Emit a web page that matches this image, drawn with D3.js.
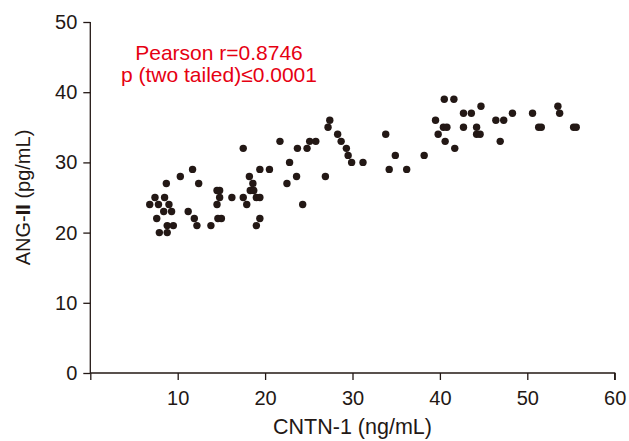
<!doctype html>
<html lang="en">
<head>
  <meta charset="utf-8">
  <title>CNTN-1 vs ANG-II</title>
  <style>
    * { margin: 0; padding: 0; box-sizing: border-box; }
    body { background: #fff; }
    svg text { font-family: "Liberation Sans", Arial, Helvetica, sans-serif; }
    .axis path, .axis line { stroke: #231815; stroke-width: 1.3; }
    .axis text { font-size: 20px; fill: #231815; }
    .title { font-size: 20px; fill: #231815; }
    .xtitle { font-size: 21.5px; }
    .stats { font-size: 21px; fill: #e60012; }
  </style>
</head>
<body>
  <div id="container"></div>
  <script src="https://cdn.jsdelivr.net/npm/d3@7"></script>
  <script>
    // points, grouped by ANG-II level (pg/mL)
    const angLevels = [20, 21, 22, 23, 24, 25, 26, 27, 28, 29, 30, 31, 32, 33, 34, 35, 36, 37, 38, 39];
    const cntnAtLevel = [
      [7.9, 8.8],
      [8.8, 9.5, 12.2, 13.8, 19.0],
      [7.6, 11.9, 14.6, 15.0, 19.4],
      [8.4, 9.3, 11.2],
      [6.8, 7.8, 9.0, 14.5, 17.9, 24.3],
      [7.4, 8.5, 14.8, 16.2, 17.5, 19.0, 19.4],
      [14.5, 14.8, 18.3, 18.7],
      [8.7, 12.4, 18.6, 22.5],
      [10.3, 18.2, 23.6, 26.9],
      [11.7, 19.4, 20.5, 34.2, 36.2],
      [22.8, 29.9, 31.2],
      [29.5, 34.9, 38.2],
      [17.5, 23.7, 24.8, 29.3, 41.7],
      [21.7, 25.1, 25.8, 28.7, 40.6, 46.9],
      [28.3, 33.8, 39.8, 44.2, 44.6],
      [27.2, 40.4, 40.8, 42.7, 44.2, 51.3, 51.6, 55.3, 55.6],
      [27.4, 39.5, 46.4, 47.3],
      [42.7, 43.6, 48.3, 50.6, 53.7],
      [44.7, 53.5],
      [40.5, 41.6]
    ];
    const xTicks = [0, 10, 20, 30, 40, 50, 60];
    const yTicks = [0, 10, 20, 30, 40, 50];
    const statLines = ['Pearson r=0.8746', 'p (two tailed)\u22640.0001'];

    const points = [];
    angLevels.forEach((lv, i) => cntnAtLevel[i].forEach(c => points.push({ x: c, y: lv })));

    const W = 629, H = 441;
    const svg = d3.select('#container').append('svg').attr('width', W).attr('height', H);

    const x = d3.scaleLinear().domain([0, 60]).range([90.3, 614.7]);
    const y = d3.scaleLinear().domain([0, 50]).range([373, 22]);

    svg.append('g').attr('class', 'axis')
      .attr('transform', `translate(0,${y(0)})`)
      .call(d3.axisBottom(x).tickValues(xTicks).tickSize(7).tickPadding(11)
        .tickFormat(d => d === 0 ? '' : d))
      .call(g => g.select('.domain').attr('d', `M${x(0)},0H${x(60)}V7`));

    svg.append('g').attr('class', 'axis')
      .attr('transform', `translate(${x(0)},0)`)
      .call(d3.axisLeft(y).tickValues(yTicks).tickSize(7).tickPadding(6))
      .call(g => g.select('.domain').attr('d', `M0,${y(50)}V${y(0)}`));

    svg.selectAll('circle.pt').data(points).join('circle')
      .attr('class', 'pt')
      .attr('cx', d => x(d.x))
      .attr('cy', d => y(d.y))
      .attr('r', 3.7)
      .attr('fill', '#231815');

    svg.append('text').attr('class', 'title xtitle')
      .attr('x', (x(0) + x(60)) / 2).attr('y', 434)
      .attr('text-anchor', 'middle')
      .text('CNTN-1 (ng/mL)');

    const yt = svg.append('text').attr('class', 'title')
      .attr('transform', `translate(30,${(y(0) + y(50)) / 2}) rotate(-90)`)
      .attr('text-anchor', 'middle');
    yt.append('tspan').text('ANG-');
    yt.append('tspan').attr('font-weight', 'bold').text('II');
    yt.append('tspan').text(' (pg/mL)');

    svg.selectAll('text.stats').data(statLines).join('text')
      .attr('class', 'stats')
      .attr('x', 219)
      .attr('y', (d, i) => 60 + i * 22)
      .attr('text-anchor', 'middle')
      .text(d => d);
  </script>
</body>
</html>
